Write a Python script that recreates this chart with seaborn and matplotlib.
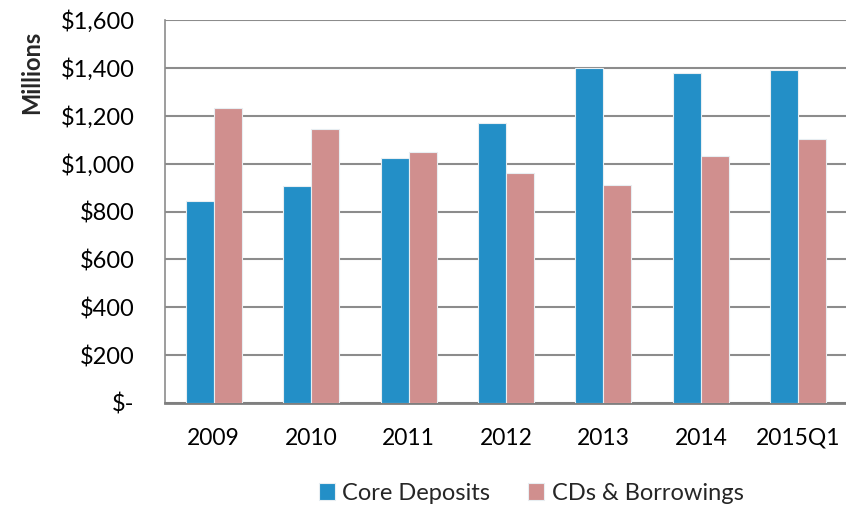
import matplotlib
matplotlib.use('Agg')
import matplotlib.pyplot as plt
import pandas as pd
import seaborn as sns

# Values (millions of dollars)
periods = ["2009", "2010", "2011", "2012", "2013", "2014", "2015Q1"]
core_deposits = [844, 906, 1023, 1170, 1398, 1380, 1392]
cds_borrowings = [1233, 1144, 1048, 961, 910, 1033, 1103]
series_names = ["Core Deposits", "CDs & Borrowings"]
y_ticks = [0, 200, 400, 600, 800, 1000, 1200, 1400, 1600]

df = pd.DataFrame({
    "period": periods * 2,
    "value": core_deposits + cds_borrowings,
    "series": [series_names[0]] * len(periods) + [series_names[1]] * len(periods),
})

sns.set_theme(style="white")
plt.rcParams['font.family'] = ['Lato', 'DejaVu Sans']

fig = plt.figure(figsize=(8.46, 5.09), dpi=100)
ax = fig.add_axes([165 / 846, 1 - 403 / 509, (847 - 165) / 846, (403 - 20) / 509])

palette = {"Core Deposits": "#238FC7", "CDs & Borrowings": "#D08F8E"}
sns.barplot(data=df, x="period", y="value", hue="series", palette=palette,
            width=0.575, ax=ax, edgecolor="#E8EEF2", linewidth=0.8,
            saturation=1, zorder=3)

ax.set_ylim(0, 1600)
ax.set_yticks(y_ticks)
ax.set_yticklabels(["$-" if v == 0 else f"${v:,}" for v in y_ticks])
ax.set_xlim(-0.5, len(periods) - 0.5)
ax.yaxis.grid(True, color="#8C8C8C", linewidth=1.5, zorder=0)
ax.set_axisbelow(True)

for side in ["top", "right"]:
    ax.spines[side].set_visible(False)
ax.spines["left"].set_color("#8C8C8C")
ax.spines["left"].set_linewidth(1.2)
ax.spines["bottom"].set_color("#7F7F7F")
ax.spines["bottom"].set_linewidth(2)

ax.tick_params(axis="y", labelsize=17, length=0, pad=22, colors="black")
ax.tick_params(axis="x", labelsize=16.5, length=0, pad=18, colors="black")
ax.set_xlabel("")
ax.set_ylabel("")
fig.text(32 / 846, 1 - 72 / 509, "Millions", rotation=90, fontsize=17,
         fontweight="bold", ha="center", va="center")

handles, labels = ax.get_legend_handles_labels()
ax.legend(handles, labels, loc="center", bbox_to_anchor=(531 / 846, 1 - 493 / 509),
          bbox_transform=fig.transFigure, ncol=2, frameon=False, fontsize=17,
          handlelength=0.7, handleheight=0.7, handletextpad=0.3,
          columnspacing=1.6)

fig.savefig("out.png", dpi=100)
